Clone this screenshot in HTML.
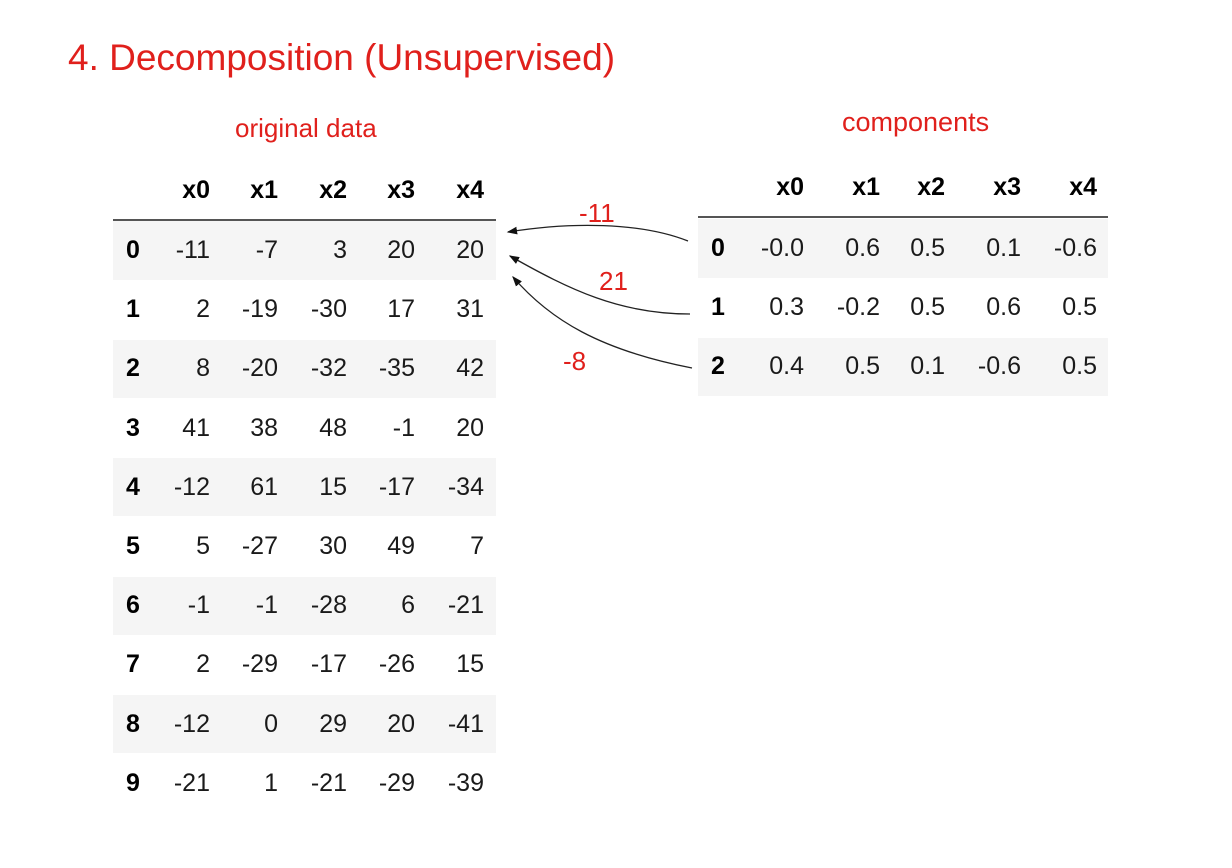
<!DOCTYPE html>
<html><head><meta charset="utf-8">
<style>
html,body{margin:0;padding:0;background:#fff;}
#page{position:relative;width:1232px;height:868px;overflow:hidden;background:#fff;font-family:"Liberation Sans",sans-serif;}
.t{position:absolute;white-space:nowrap;line-height:1;}
.red{color:#e0201c;}
.cell{position:absolute;font-size:25px;color:#1a1a1a;line-height:1;white-space:nowrap;text-align:right;}
.b{font-weight:bold;color:#000;}
.band{position:absolute;background:#f5f5f5;}
.rule{position:absolute;height:2px;background:#555;}
</style></head>
<body>
<div id="page">
<div class="t red" style="left:68px;top:39px;font-size:37px;">4. Decomposition (Unsupervised)</div>
<div class="t red" style="left:235px;top:115px;font-size:26px;">original data</div>
<div class="t red" style="left:842px;top:109px;font-size:27px;">components</div>
<div id="left"></div>
<div id="right"></div>
<svg id="arrows" width="1232" height="868" style="position:absolute;left:0;top:0;">
<defs><marker id="ah" markerWidth="8" markerHeight="8" refX="7" refY="4" orient="auto"><path d="M0,1 L8,4 L0,7 z" fill="#111"/></marker></defs>
<path d="M688,241 C640,222 570,222 508,232" fill="none" stroke="#222" stroke-width="1.3" marker-end="url(#ah)"/>
<path d="M690,314 C620,314 570,290 510,256" fill="none" stroke="#222" stroke-width="1.3" marker-end="url(#ah)"/>
<path d="M692,368 C600,350 550,320 513,277" fill="none" stroke="#222" stroke-width="1.3" marker-end="url(#ah)"/>
</svg>
<div class="t red" style="left:579px;top:200px;font-size:26px;">-11</div>
<div class="t red" style="left:599px;top:268px;font-size:26px;">21</div>
<div class="t red" style="left:563px;top:348px;font-size:26px;">-8</div>
</div>
<script>
const cols = ["x0","x1","x2","x3","x4"];
const originalData = [
 [-11,-7,3,20,20],[2,-19,-30,17,31],[8,-20,-32,-35,42],[41,38,48,-1,20],[-12,61,15,-17,-34],
 [5,-27,30,49,7],[-1,-1,-28,6,-21],[2,-29,-17,-26,15],[-12,0,29,20,-41],[-21,1,-21,-29,-39]];
const componentsData = [
 ["-0.0","0.6","0.5","0.1","-0.6"],["0.3","-0.2","0.5","0.6","0.5"],["0.4","0.5","0.1","-0.6","0.5"]];

function buildTable(host, data, cfg){
  const rule=document.createElement('div');
  rule.className='rule';
  
  
  rule.style.cssText=`left:${cfg.x0}px;top:${cfg.ruleY}px;width:${cfg.x1-cfg.x0}px;`;
  host.appendChild(rule);
  cols.forEach((c,j)=>{
    const h=document.createElement('div');
    h.className='cell b';
    
    
    h.textContent=c;
    h.style.cssText=`right:${1232-cfg.colR[j]}px;top:${cfg.headY-12}px;`;
    host.appendChild(h);
  });
  data.forEach((row,i)=>{
    const cy=cfg.row0+i*cfg.rh;
    if(i%2===0){
      const band=document.createElement('div');
      band.className='band';
      
      
      band.style.cssText=`left:${cfg.x0}px;top:${cy-cfg.rh/2+1}px;width:${cfg.x1-cfg.x0}px;height:${cfg.rh-1}px;`;
      host.appendChild(band);
    }
    const idx=document.createElement('div');
    idx.className='cell b';
    
    
    idx.textContent=i;
    idx.style.cssText=`left:${cfg.idxX}px;top:${cy-12}px;text-align:left;`;
    host.appendChild(idx);
    row.forEach((v,j)=>{
      const d=document.createElement('div');
      d.className='cell';
      
      
      d.textContent=v;
      d.style.cssText=`right:${1232-cfg.colR[j]}px;top:${cy-12}px;`;
      host.appendChild(d);
    });
  });
}
buildTable(document.getElementById('left'), originalData,
 {x0:113,x1:496,ruleY:219,headY:190,row0:250,rh:59.2,idxX:126,colR:[210,278,347,415,484]});
buildTable(document.getElementById('right'), componentsData,
 {x0:698,x1:1108,ruleY:216,headY:187,row0:248,rh:59.2,idxX:711,colR:[804,880,945,1021,1097]});
</script>
</body></html>
